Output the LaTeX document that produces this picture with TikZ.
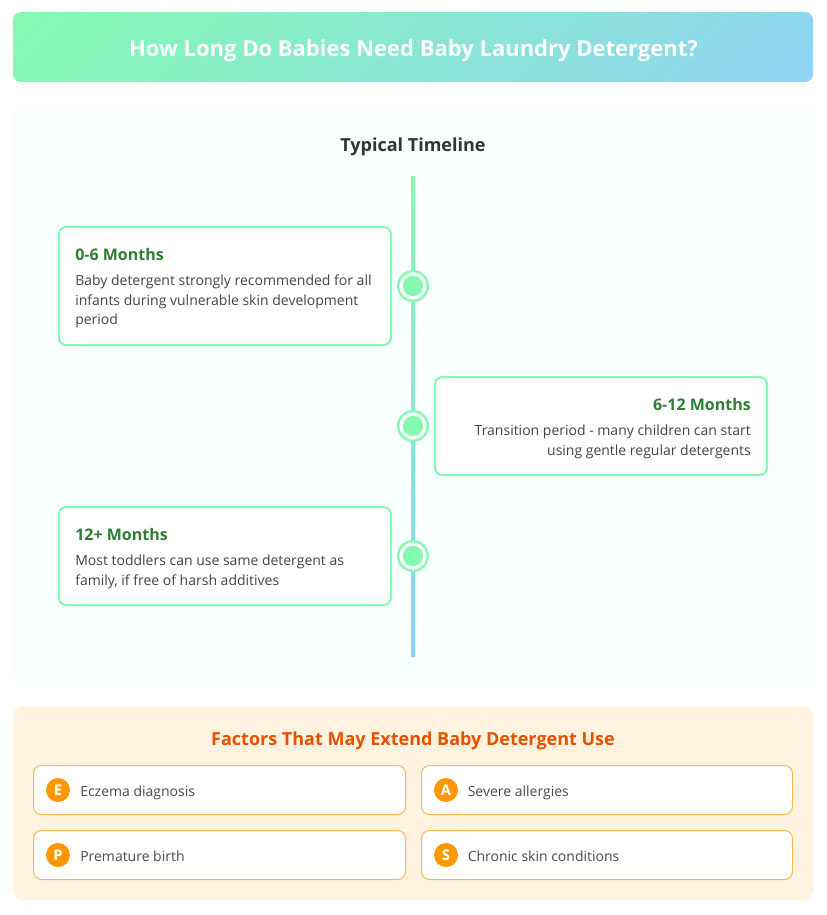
\documentclass[tikz,border=0pt]{standalone}
\usepackage{fontspec}
\setmainfont{Open Sans}
\definecolor{mintc}{HTML}{84FAB0}
\definecolor{skyc}{HTML}{8FD3F4}
\definecolor{panelc}{HTML}{F8FFFE}
\definecolor{darkt}{HTML}{333333}
\definecolor{bodyt}{HTML}{444444}
\definecolor{slatet}{HTML}{444B55}
\definecolor{greent}{HTML}{2E7D32}
\definecolor{creamc}{HTML}{FFF3E0}
\definecolor{oranget}{HTML}{E65100}
\definecolor{orangeb}{HTML}{FFB74D}
\definecolor{orangec}{HTML}{FF9800}
\newcommand{\pxfont}[2]{\fontsize{#1}{#2}\selectfont}
\tikzset{
  boxbase/.style={rectangle,inner sep=0pt,outer sep=0pt},
  panelbox/.style={boxbase,rounded corners=7.5pt,minimum width=600pt},
  cardbox/.style={boxbase,draw=mintc,line width=1.5pt,fill=white,rounded corners=5.5pt,minimum width=249pt},
  factorbox/.style={boxbase,draw=orangeb,line width=.75pt,fill=white,rounded corners=6pt,minimum height=36.75pt},
  ringdot/.style={circle,inner sep=0pt,outer sep=0pt,draw=mintc,line width=1.8pt,fill=white,minimum size=22.2pt,path picture={\fill[mintc] (path picture bounding box.center) circle (7.6pt);}},
  badge/.style={circle,inner sep=0pt,fill=orangec,minimum size=18pt,text=white,font=\pxfont{11pt}{12pt}\bfseries},
  cardhead/.style={inner sep=0pt,text=greent,font=\pxfont{12pt}{14pt}\bfseries},
  cardtext/.style={inner sep=0pt,text=bodyt,font=\pxfont{10.5pt}{14.7pt}},
  factortext/.style={inner sep=0pt,text=slatet,anchor=base west,font=\pxfont{10.5pt}{14pt}},
}
\newcommand{\firstline}{\rule{0pt}{11.25pt}}
\begin{document}
\begin{tikzpicture}[x=0.75pt,y=-0.75pt]
\useasboundingbox[fill=white] (0,0) rectangle (827,915);
% header: CSS-style 135deg gradient, clipped to the rounded box
\node[panelbox,minimum height=52.5pt] (header) at (413,47) {};
\begin{scope}
\clip[rounded corners=6pt] (header.north west) rectangle (header.south east);
\shade[transform canvas={rotate around={-45:(header.center)}},left color=mintc,right color=skyc] (105.4,-403) rectangle (720.6,497);
\end{scope}
\node[inner sep=0pt,anchor=base,text=white,font=\pxfont{16.5pt}{20pt}\bfseries] (title) at (413.5,56) {How Long Do Babies Need Baby Laundry Detergent?};
% timeline panel
\node[panelbox,minimum height=430.5pt,fill=panelc] (panel) at (413,394) {};
\node[inner sep=0pt,anchor=base,text=darkt,font=\pxfont{13.5pt}{18pt}\bfseries] (tltitle) at (413,151) {Typical Timeline};
\coordinate (tlTop) at (411,176);
\coordinate (tlBot) at (415,656);
\fill[top color=mintc,bottom color=skyc] (tlTop) rectangle (tlBot);
\node[ringdot] (dotA) at (413,286) {};
\node[ringdot] (dotB) at (413,426) {};
\node[ringdot] (dotC) at (413,556) {};
% cards
\node[cardbox,minimum height=88.5pt] (cardA) at (225,286) {};
\node[cardhead,anchor=base west] (cardAh) at (75,260) {0-6 Months};
\node[cardtext,anchor=north west,align=left] (cardAt) at (75,270.3) {\firstline Baby detergent strongly recommended for all\\infants during vulnerable skin development\\period};
\node[cardbox,minimum height=73.5pt] (cardB) at (601,426) {};
\node[cardhead,anchor=base east] (cardBh) at (751,410) {6-12 Months};
\node[cardtext,anchor=north east,align=right] (cardBt) at (751,420.3) {\firstline Transition period - many children can start\\using gentle regular detergents};
\node[cardbox,minimum height=73.5pt] (cardC) at (225,556) {};
\node[cardhead,anchor=base west] (cardCh) at (75,540) {12+ Months};
\node[cardtext,anchor=north west,align=left] (cardCt) at (75,550.3) {\firstline Most toddlers can use same detergent as\\family, if free of harsh additives};
% factors
\node[panelbox,minimum height=145.5pt,fill=creamc] (fpanel) at (413,803) {};
\node[inner sep=0pt,anchor=base,text=oranget,font=\pxfont{13.5pt}{16pt}\bfseries] (ftitle) at (413,745) {Factors That May Extend Baby Detergent Use};
\node[factorbox,minimum width=279pt] (fE) at (219.5,790) {};
\node[factorbox,minimum width=278.25pt] (fA) at (607,790) {};
\node[factorbox,minimum width=279pt] (fP) at (219.5,855) {};
\node[factorbox,minimum width=278.25pt] (fS) at (607,855) {};
\node[badge] (bE) at (58,790) {E};
\node[badge] (bA) at (446,790) {A};
\node[badge] (bP) at (58,855) {P};
\node[badge] (bS) at (446,855) {S};
\node[factortext] (tE) at (80,796) {Eczema diagnosis};
\node[factortext] (tA) at (467.5,796) {Severe allergies};
\node[factortext] (tP) at (80,861) {Premature birth};
\node[factortext] (tS) at (467.5,861) {Chronic skin conditions};
\end{tikzpicture}
\end{document}
